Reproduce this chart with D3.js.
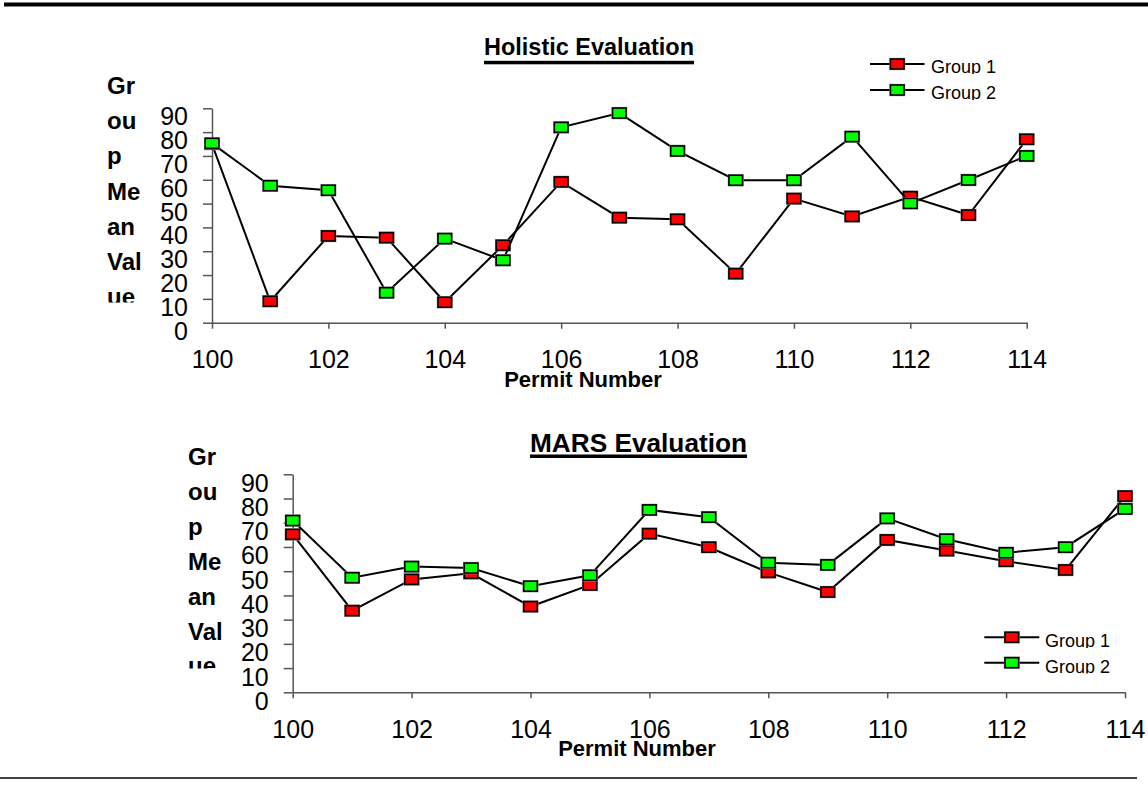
<!DOCTYPE html>
<html>
<head>
<meta charset="utf-8">
<script src="https://cdn.jsdelivr.net/npm/d3@7"></script>
<style>
  html, body { margin: 0; padding: 0; background: #fff; }
  svg { display: block; font-family: "Liberation Sans", Arial, sans-serif; }
</style>
</head>
<body>
<svg id="chart" width="1148" height="808"></svg>
<script>
// Permit numbers on the x axis
const permits = [100, 101, 102, 103, 104, 105, 106, 107, 108, 109, 110, 111, 112, 113, 114];

// Holistic evaluation: group mean values per permit
const holisticGroup1 = [75, 9, 36.4, 35.7, 8.6, 32.5, 59.1, 44.1, 43.4, 20.6, 52.1, 44.6, 52.9, 45.2, 77];
const holisticGroup2 = [75.3, 57.5, 55.6, 12.6, 35.3, 26.2, 82, 88, 72.1, 59.8, 59.8, 78.1, 50.1, 59.9, 70];

// MARS evaluation: group mean values per permit
const marsGroup1 = [65.2, 33.7, 46.6, 49.1, 35.4, 44.3, 65.5, 59.9, 49.5, 41.4, 62.9, 58.5, 54.1, 50.5, 81];
const marsGroup2 = [70.9, 47.3, 51.9, 51.3, 43.8, 48.3, 75.3, 72.3, 53.5, 52.6, 71.8, 63.2, 57.6, 59.9, 75.7];

// Axis ticks and labels
const yTicks = [0, 10, 20, 30, 40, 50, 60, 70, 80, 90];
const xTicks = [100, 102, 104, 106, 108, 110, 112, 114];
const seriesNames = ["Group 1", "Group 2"];
const seriesColors = ["#ff0000", "#00ff00"];
const yTitleLines = ["Gr", "ou", "p", "Me", "an", "Val", "ue"];
const xTitle = "Permit Number";

const svg = d3.select("#chart");

// Page rules
svg.append("rect").attr("x", 4).attr("y", 2.5).attr("width", 1144).attr("height", 4).attr("fill", "#000");
svg.append("line").attr("x1", 0).attr("x2", 1137).attr("y1", 778).attr("y2", 778)
  .attr("stroke", "#000").attr("stroke-width", 1.5);

function drawPanel(p) {
  const g = svg.append("g");
  const x = d3.scaleLinear().domain([100, 114]).range([p.left, p.right]);
  const y = d3.scaleLinear().domain([0, 90]).range([p.bottom, p.top]);

  // Title (bold, underlined)
  const t = g.append("text")
    .attr("x", p.titleX).attr("y", p.titleY)
    .attr("font-size", p.titleSize).attr("font-weight", "bold")
    .attr("textLength", p.titleWidth).attr("lengthAdjust", "spacingAndGlyphs")
    .text(p.title);
  g.append("rect").attr("x", p.titleX).attr("y", p.titleY + p.ulOffset)
    .attr("width", p.titleWidth).attr("height", 3.5).attr("fill", "#000");

  // Y axis
  const yAxis = g.append("g").attr("transform", `translate(${p.left},0)`)
    .call(d3.axisLeft(y).tickValues(yTicks).tickSize(9).tickPadding(15).tickSizeOuter(0));
  yAxis.select(".domain").attr("stroke", "#555").attr("stroke-width", 1.5);
  yAxis.selectAll(".tick line").attr("stroke", "#555").attr("stroke-width", 1.5);
  yAxis.selectAll(".tick text")
    .attr("font-size", 25).attr("font-family", "\"Liberation Sans\", Arial, sans-serif")
    .attr("fill", "#000").attr("dy", 0).attr("y", p.yLabelShift);

  // X axis
  const xAxis = g.append("g").attr("transform", `translate(0,${p.bottom})`)
    .call(d3.axisBottom(x).tickValues(xTicks).tickSize(6).tickSizeOuter(0).tickFormat(d3.format("d")));
  xAxis.select(".domain").attr("stroke", "#555").attr("stroke-width", 1.5);
  xAxis.selectAll(".tick line").attr("stroke", "#555").attr("stroke-width", 1.5);
  xAxis.selectAll(".tick text")
    .attr("font-size", 25).attr("font-family", "\"Liberation Sans\", Arial, sans-serif")
    .attr("fill", "#000").attr("dy", 0).attr("y", 45.5);

  // X axis title
  g.append("text").attr("x", p.xTitleX).attr("y", p.bottom + 64)
    .attr("text-anchor", "middle").attr("font-size", 22).attr("font-weight", "bold")
    .text(xTitle);

  // Wrapped Y axis title, cut off at the bottom
  const clipId = "ytclip-" + p.id;
  g.append("clipPath").attr("id", clipId).append("rect")
    .attr("x", 0).attr("y", 0).attr("width", p.left).attr("height", p.yTitleClip);
  g.append("g").attr("clip-path", `url(#${clipId})`)
    .selectAll("text").data(yTitleLines).join("text")
    .attr("x", p.yTitleX).attr("y", (d, i) => p.yTitleTop + i * p.yTitleStep)
    .attr("font-size", 24).attr("font-weight", "bold")
    .text(d => d);

  // Series: lines then markers, Group 2 above Group 1
  const line = d3.line().x((d, i) => x(permits[i])).y(d => y(d));
  p.series.forEach((vals, s) => {
    g.append("path").datum(vals).attr("d", line)
      .attr("fill", "none").attr("stroke", "#000").attr("stroke-width", 2);
    const m = g.append("g");
    m.selectAll("rect.halo").data(vals).join("rect").attr("class", "halo")
      .attr("x", (d, i) => x(permits[i]) - 8).attr("y", d => y(d) - 6.2)
      .attr("width", 16).attr("height", 12.4).attr("fill", "#9a9a9a");
    m.selectAll("rect.mk").data(vals).join("rect").attr("class", "mk")
      .attr("x", (d, i) => x(permits[i]) - 6.8).attr("y", d => y(d) - 5)
      .attr("width", 13.6).attr("height", 10)
      .attr("fill", seriesColors[s]).attr("stroke", "#000").attr("stroke-width", 1.6);
  });

  // Legend
  seriesNames.forEach((name, s) => {
    const cy = p.legY + s * p.legStep;
    const lg = g.append("g");
    lg.append("line").attr("x1", p.legX1).attr("x2", p.legX2).attr("y1", cy).attr("y2", cy)
      .attr("stroke", "#000").attr("stroke-width", 2);
    const mx = (p.legX1 + p.legX2) / 2;
    lg.append("rect").attr("x", mx - 8).attr("y", cy - 6.2).attr("width", 16).attr("height", 12.4).attr("fill", "#9a9a9a");
    lg.append("rect").attr("x", mx - 6.8).attr("y", cy - 5).attr("width", 13.6).attr("height", 10)
      .attr("fill", seriesColors[s]).attr("stroke", "#000").attr("stroke-width", 1.6);
    const cid = `legclip-${p.id}-${s}`;
    lg.append("clipPath").attr("id", cid).append("rect")
      .attr("x", p.legTextX - 2).attr("y", cy - 16).attr("width", 90).attr("height", 16 + p.legBase + 0.8);
    lg.append("text").attr("clip-path", `url(#${cid})`)
      .attr("x", p.legTextX).attr("y", cy + p.legBase)
      .attr("font-size", 18).text(name);
  });
}

drawPanel({
  id: "holistic", title: "Holistic Evaluation",
  left: 212, right: 1026.7, top: 108.3, bottom: 322.7,
  titleX: 484, titleY: 55, titleSize: 23.5, titleWidth: 210, ulOffset: 5.8,
  yLabelShift: 16.5, xTitleX: 583,
  yTitleX: 107, yTitleTop: 94, yTitleStep: 35.2, yTitleClip: 302.5,
  series: [holisticGroup1, holisticGroup2],
  legX1: 870, legX2: 924.5, legY: 64, legStep: 26, legTextX: 931, legBase: 9.3
});

drawPanel({
  id: "mars", title: "MARS Evaluation",
  left: 292.7, right: 1125, top: 474.3, bottom: 692.3,
  titleX: 530, titleY: 451.5, titleSize: 25, titleWidth: 217, ulOffset: 3,
  yLabelShift: 17, xTitleX: 637,
  yTitleX: 188, yTitleTop: 465, yTitleStep: 34.9, yTitleClip: 668.5,
  series: [marsGroup1, marsGroup2],
  legX1: 984.3, legX2: 1039.3, legY: 637.3, legStep: 25.4, legTextX: 1045, legBase: 10
});
</script>
</body>
</html>
